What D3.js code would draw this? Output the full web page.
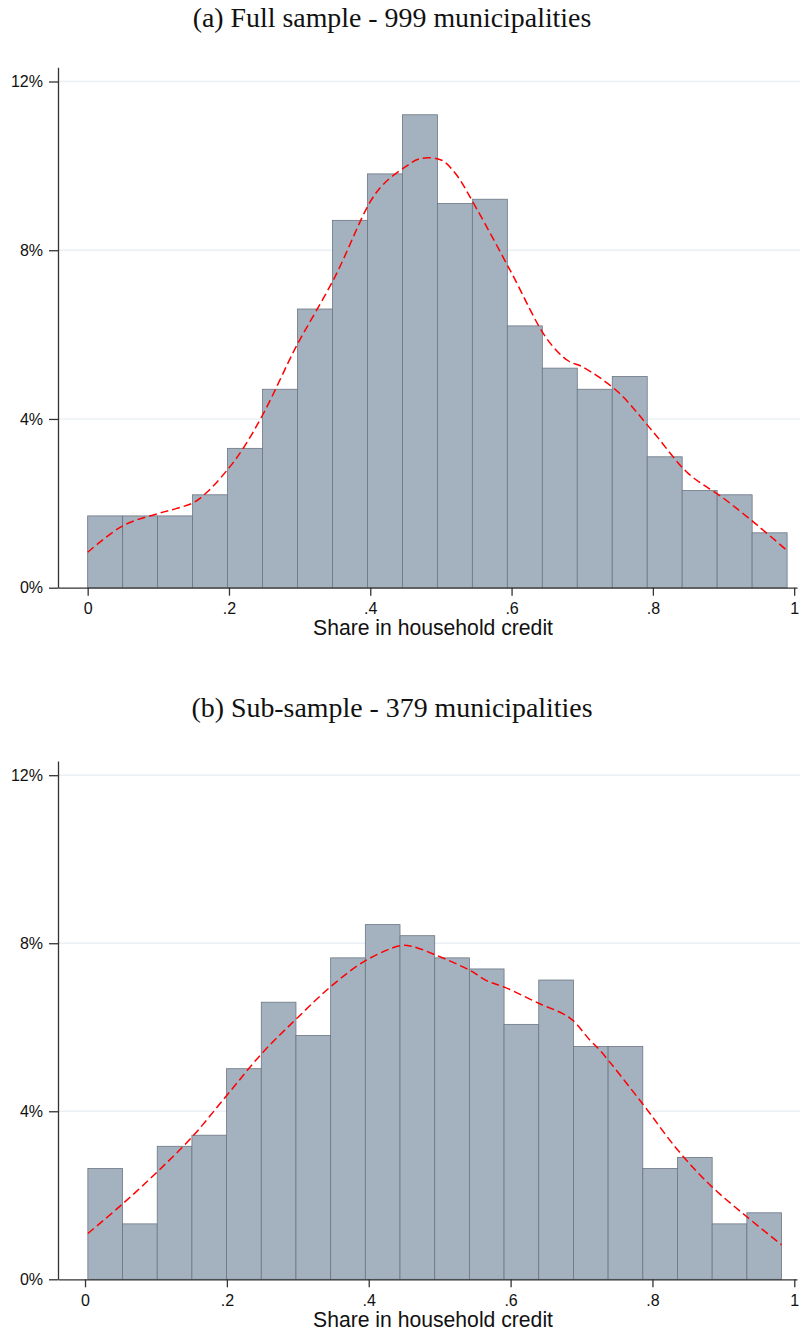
<!DOCTYPE html>
<html>
<head>
<meta charset="utf-8">
<script src="https://cdn.jsdelivr.net/npm/d3@7"></script>
<style>
  body { margin: 0; background: #fff; }
  svg { display: block; }
</style>
</head>
<body>
<div id="chart"></div>
<script>
// Histogram counts (20 bins) for each sample
const fullCounts = [17, 17, 17, 22, 33, 47, 66, 87, 98, 112, 91, 92, 62, 52, 47, 50, 31, 23, 22, 13];
const fullN = 999;
const fullBinStart = 0;
const fullBinWidth = 0.0495;

const subCounts = [10, 5, 12, 13, 19, 25, 22, 29, 32, 31, 29, 28, 23, 27, 21, 21, 10, 11, 5, 6];
const subN = 379;
const subBinStart = 0.004;
const subBinWidth = 0.0489;

// Kernel density (share, percent)
const fullDensX = [0, 0.05, 0.1, 0.126, 0.15, 0.17, 0.2, 0.22, 0.25, 0.29, 0.3, 0.35, 0.4, 0.42, 0.45, 0.47, 0.5, 0.52, 0.55, 0.6, 0.65, 0.68, 0.7, 0.75, 0.8, 0.85, 0.9, 0.95, 0.99];
const fullDensY = [0.84, 1.47, 1.76, 1.88, 2.02, 2.28, 2.84, 3.3, 4.17, 5.55, 5.87, 7.37, 9.15, 9.59, 9.98, 10.17, 10.14, 9.83, 9.0, 7.46, 5.9, 5.38, 5.24, 4.65, 3.7, 2.71, 2.12, 1.45, 0.88];

const subDensX = [0.004, 0.054, 0.102, 0.151, 0.2, 0.249, 0.298, 0.348, 0.396, 0.444, 0.46, 0.493, 0.543, 0.566, 0.592, 0.641, 0.674, 0.688, 0.712, 0.726, 0.786, 0.836, 0.884, 0.933, 0.982];
const subDensY = [1.09, 1.81, 2.56, 3.39, 4.38, 5.37, 6.2, 6.99, 7.59, 7.94, 7.93, 7.73, 7.35, 7.11, 6.95, 6.56, 6.32, 6.16, 5.69, 5.45, 4.18, 3.07, 2.2, 1.49, 0.82];

const xTicks = [0, 0.2, 0.4, 0.6, 0.8, 1];
const yTicks = [0, 4, 8, 12];
const xTitle = "Share in household credit";
const titles = ["(a) Full sample - 999 municipalities", "(b) Sub-sample - 379 municipalities"];

const width = 800;
const height = 1334;

const svg = d3.select("#chart").append("svg")
  .attr("width", width)
  .attr("height", height);

const panels = [
  { title: titles[0], counts: fullCounts, n: fullN, start: fullBinStart, bw: fullBinWidth,
    dx: fullDensX, dy: fullDensY, titleY: 27.3, y0: 587.7, yTop: 67.3, xDomain: [-0.042, 1.004], axisTitleY: 635 },
  { title: titles[1], counts: subCounts, n: subN, start: subBinStart, bw: subBinWidth,
    dx: subDensX, dy: subDensY, titleY: 716.7, y0: 1279.3, yTop: 761, xDomain: [-0.0381, 1.0038], axisTitleY: 1327 }
];

const left = 58, right = 797;
const sansFont = "'Liberation Sans', Arial, sans-serif";
const serifFont = "'Liberation Serif', 'Times New Roman', serif";

// fit title font size to the reference width
let titleSize = 24;
{
  const t = svg.append("text").attr("font-family", serifFont).attr("font-size", 24).text(titles[0]);
  const w = t.node().getComputedTextLength();
  titleSize = 24 * 399 / w;
  t.remove();
}
let axisTitleSize = 18;
{
  const t = svg.append("text").attr("font-family", sansFont).attr("font-size", 18).text(xTitle);
  const w = t.node().getComputedTextLength();
  axisTitleSize = 18 * 240 / w;
  t.remove();
}

panels.forEach(p => {
  const x = d3.scaleLinear().domain(p.xDomain).range([left, right]);
  const ymax = 12 * (p.y0 - p.yTop) / (p.y0 - (p.yTop + 14.2));
  const y = d3.scaleLinear().domain([0, ymax]).range([p.y0, p.yTop]);

  const g = svg.append("g");

  // title
  g.append("text")
    .attr("x", 392)
    .attr("y", p.titleY)
    .attr("text-anchor", "middle")
    .attr("font-family", serifFont)
    .attr("font-size", titleSize)
    .attr("fill", "#111")
    .text(p.title);

  // gridlines
  g.append("g").selectAll("line")
    .data(yTicks.filter(d => d > 0))
    .join("line")
    .attr("x1", left)
    .attr("x2", width)
    .attr("y1", d => y(d))
    .attr("y2", d => y(d))
    .attr("stroke", "#eaf0f5")
    .attr("stroke-width", 1.5);

  // bars
  const bins = p.counts.map((c, i) => ({
    x0: p.start + i * p.bw,
    x1: p.start + (i + 1) * p.bw,
    pct: c / p.n * 100
  }));
  g.append("g").selectAll("rect")
    .data(bins)
    .join("rect")
    .attr("x", d => x(d.x0))
    .attr("width", d => x(d.x1) - x(d.x0))
    .attr("y", d => y(d.pct))
    .attr("height", d => y(0) - y(d.pct))
    .attr("fill", "#a4b2c0")
    .attr("stroke", "#6b7682")
    .attr("stroke-width", 0.8);

  // density
  const pts = p.dx.map((v, i) => [v, p.dy[i]]);
  g.append("path")
    .datum(pts)
    .attr("fill", "none")
    .attr("stroke", "#ff0000")
    .attr("stroke-width", 1.5)
    .attr("stroke-dasharray", "8,4")
    .attr("d", d3.line().x(d => x(d[0])).y(d => y(d[1])).curve(d3.curveCatmullRom.alpha(0.5)));

  // y axis
  const yAxis = g.append("g")
    .attr("transform", `translate(${left},0)`)
    .call(d3.axisLeft(y).tickValues(yTicks).tickSize(9).tickPadding(6).tickSizeOuter(0)
      .tickFormat(d => d + "%"));
  yAxis.selectAll("text").attr("font-family", sansFont).attr("font-size", 16).attr("fill", "#111");

  // x axis
  const xAxis = g.append("g")
    .attr("transform", `translate(0,${p.y0})`)
    .call(d3.axisBottom(x).tickValues(xTicks).tickSize(8).tickPadding(7).tickSizeOuter(0)
      .tickFormat(d => d === 0 ? "0" : d === 1 ? "1" : String(d).replace(/^0/, "")));
  xAxis.selectAll("text").attr("font-family", sansFont).attr("font-size", 16).attr("fill", "#111");

  svg.selectAll(".domain, .tick line").attr("stroke", "#333").attr("stroke-width", 1.3);

  // x axis title
  g.append("text")
    .attr("x", 433)
    .attr("y", p.axisTitleY)
    .attr("text-anchor", "middle")
    .attr("font-family", sansFont)
    .attr("font-size", axisTitleSize)
    .attr("fill", "#111")
    .text(xTitle);
});
</script>
</body>
</html>
